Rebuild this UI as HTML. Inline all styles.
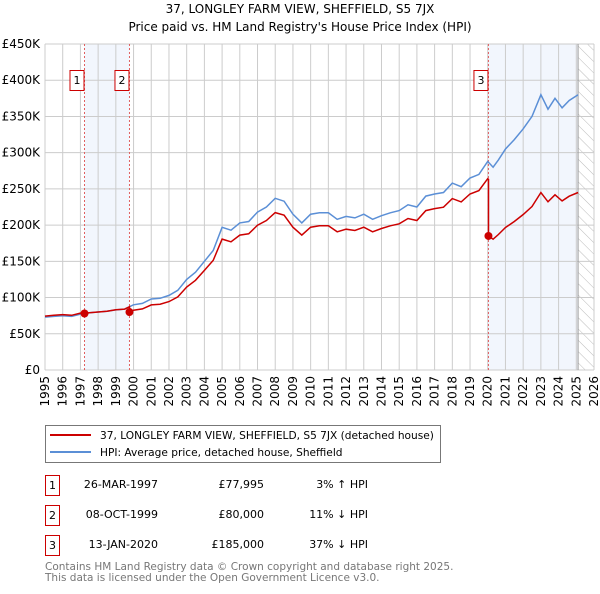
<!DOCTYPE html>
<html><head><meta charset="utf-8">
<style>
body{margin:0;background:#fff;width:600px;height:590px;overflow:hidden;font-family:"DejaVu Sans","Liberation Sans",sans-serif;}
svg text{font-family:"DejaVu Sans","Liberation Sans",sans-serif;}
</style></head>
<body>
<svg id="chart" width="600" height="590" viewBox="0 0 600 590" xmlns="http://www.w3.org/2000/svg">
<defs>
<pattern id="hatch" width="8" height="8" patternUnits="userSpaceOnUse" patternTransform="rotate(-45)">
<line x1="0" y1="0" x2="0" y2="8" stroke="#bbb" stroke-width="1"/>
</pattern>
</defs>
<text x="300" y="13" text-anchor="middle" font-size="12">37, LONGLEY FARM VIEW, SHEFFIELD, S5 7JX</text>
<text x="300" y="31" text-anchor="middle" font-size="12">Price paid vs. HM Land Registry's House Price Index (HPI)</text>
<g id="plot"></g>
<g>
<rect x="45.5" y="425.5" width="395" height="37" fill="#fff" stroke="#777"/>
<line x1="50" y1="435" x2="91" y2="435" stroke="#cc0000" stroke-width="2"/>
<text x="100" y="439" font-size="10.6">37, LONGLEY FARM VIEW, SHEFFIELD, S5 7JX (detached house)</text>
<line x1="50" y1="452" x2="91" y2="452" stroke="#5b8fd6" stroke-width="2"/>
<text x="100" y="456" font-size="10.6">HPI: Average price, detached house, Sheffield</text>
</g>
<g font-size="11">
<rect x="45.5" y="475.5" width="14" height="20" fill="#fff" stroke="#cc0000"/><text x="52.5" y="489" text-anchor="middle">1</text>
<text x="158" y="488" text-anchor="end">26-MAR-1997</text><text x="264" y="488" text-anchor="end">£77,995</text><text x="368" y="488" text-anchor="end">3% ↑ HPI</text>
<rect x="45.5" y="505.5" width="14" height="20" fill="#fff" stroke="#cc0000"/><text x="52.5" y="519" text-anchor="middle">2</text>
<text x="158" y="518" text-anchor="end">08-OCT-1999</text><text x="264" y="518" text-anchor="end">£80,000</text><text x="368" y="518" text-anchor="end">11% ↓ HPI</text>
<rect x="45.5" y="535.5" width="14" height="20" fill="#fff" stroke="#cc0000"/><text x="52.5" y="549" text-anchor="middle">3</text>
<text x="158" y="548" text-anchor="end">13-JAN-2020</text><text x="264" y="548" text-anchor="end">£185,000</text><text x="368" y="548" text-anchor="end">37% ↓ HPI</text>
</g>
<text x="45" y="570" font-size="10.5" fill="#777">Contains HM Land Registry data © Crown copyright and database right 2025.</text>
<text x="45" y="581" font-size="10.5" fill="#777">This data is licensed under the Open Government Licence v3.0.</text>
</svg>
<script>
const hpiYears=[1995,1995.5,1996,1996.5,1997,1997.5,1998,1998.5,1999,1999.5,2000,2000.5,2001,2001.5,2002,2002.5,2003,2003.5,2004,2004.5,2005,2005.5,2006,2006.5,2007,2007.5,2008,2008.5,2009,2009.5,2010,2010.5,2011,2011.5,2012,2012.5,2013,2013.5,2014,2014.5,2015,2015.5,2016,2016.5,2017,2017.5,2018,2018.5,2019,2019.5,2020,2020.3,2020.6,2021,2021.5,2022,2022.5,2023,2023.4,2023.8,2024.2,2024.6,2025.1];
const hpiValues=[73,74,75,74,77,79,80,81,83,84,90,92,98,99,103,110,125,135,150,165,197,193,203,205,218,225,237,233,215,203,215,217,217,208,212,210,215,208,213,217,220,228,225,240,243,245,258,253,265,270,288,280,290,305,318,333,350,380,360,375,362,372,380];
const saleYears=[1997.23,1999.77,2020.04];
const salePrices=[77995,80000,185000];
const saleLabels=["1","2","3"];
const yTicks=[0,50,100,150,200,250,300,350,400,450];
const yTickLabels=["£0","£50K","£100K","£150K","£200K","£250K","£300K","£350K","£400K","£450K"];
const xTicks=[];for(let y=1995;y<=2026;y++)xTicks.push(y);

const X0=45,X1=594,Y0=370,Y1=44,yearMin=1995,yearMax=2026,vMax=450;
const sx=y=>X0+(y-yearMin)/(yearMax-yearMin)*(X1-X0);
const sy=v=>Y0-v/vMax*(Y0-Y1);
const NS="http://www.w3.org/2000/svg";
const plot=document.getElementById('plot');
function mk(tag,attrs,parent){const e=document.createElementNS(NS,tag);for(const k in attrs)e.setAttribute(k,attrs[k]);(parent||plot).appendChild(e);return e;}
function hpiAt(t){if(t<=hpiYears[0])return hpiValues[0];for(let i=1;i<hpiYears.length;i++){if(t<=hpiYears[i]){const f=(t-hpiYears[i-1])/(hpiYears[i]-hpiYears[i-1]);return hpiValues[i-1]+f*(hpiValues[i]-hpiValues[i-1]);}}return hpiValues[hpiValues.length-1];}

const s1=mk('rect',{x:sx(saleYears[0]),y:Y1,width:sx(saleYears[1])-sx(saleYears[0]),height:Y0-Y1,fill:'#f2f6fd'});


const lastYear=hpiYears[hpiYears.length-1];
const s2=mk('rect',{x:sx(saleYears[2]),y:Y1,width:sx(lastYear)-sx(saleYears[2]),height:Y0-Y1,fill:'#f2f6fd'});


const hz=mk('rect',{x:sx(lastYear),y:Y1,width:X1-sx(lastYear),height:Y0-Y1,fill:'url(#hatch)'});



yTicks.forEach((v,i)=>{
 const l=mk('line',{x1:X0,x2:X1,y1:sy(v),y2:sy(v),stroke:'#ccc','stroke-width':1});
 
 
 const t=mk('text',{x:X0-5,y:sy(v)+4,'text-anchor':'end','font-size':12});
 t.textContent=yTickLabels[i];
 
 
});
xTicks.forEach(y=>{
 const l=mk('line',{x1:sx(y),x2:sx(y),y1:Y1,y2:Y0,stroke:'#ccc','stroke-width':1});
 
 
 const t=mk('text',{x:sx(y)+4,y:Y0+6,'text-anchor':'end','font-size':12,transform:`rotate(-90 ${sx(y)+4} ${Y0+6})`});
 t.textContent=y;
 
 
});
mk('line',{x1:sx(lastYear),x2:sx(lastYear),y1:Y1,y2:Y0,stroke:'#999','stroke-width':1});

saleYears.forEach((y,i)=>{
 const l=mk('line',{x1:sx(y),x2:sx(y),y1:Y1,y2:Y0,stroke:'#e06060','stroke-width':1,'stroke-dasharray':'2,2'});
 
 
 const g=mk('g',{});
 
 
 mk('rect',{x:sx(y)-14.5,y:70.5,width:14,height:20,fill:'#fff',stroke:'#cc0000'},g);
 const t=mk('text',{x:sx(y)-7.5,y:84,'text-anchor':'middle','font-size':11},g);
 t.textContent=saleLabels[i];
});

const hp=hpiYears.map((y,i)=>sx(y).toFixed(1)+','+sy(hpiValues[i]).toFixed(1)).join(' ');
const hl=mk('polyline',{points:hp,fill:'none',stroke:'#5b8fd6','stroke-width':1.5});



const pts=[];
function ratio(k){return salePrices[k]/1000/hpiAt(saleYears[k]);}
const preRatio=1.02;
hpiYears.forEach((y,i)=>{
 let k=-1;for(let j=0;j<saleYears.length;j++)if(y>=saleYears[j])k=j;
 for(let j=0;j<saleYears.length;j++){if(saleYears[j]<=y&&!pts['s'+j]){pts['s'+j]=1;
   const r=j>0?ratio(j-1):preRatio;
   pts.push([saleYears[j],hpiAt(saleYears[j])*r]);
   pts.push([saleYears[j],salePrices[j]/1000]);}}
 pts.push([y,hpiValues[i]*(k<0?preRatio:ratio(k))]);
});
const rl=mk('polyline',{points:pts.map(p=>sx(p[0]).toFixed(1)+','+sy(p[1]).toFixed(1)).join(' '),fill:'none',stroke:'#cc0000','stroke-width':1.5});


saleYears.forEach((y,i)=>{
 const c=mk('circle',{cx:sx(y),cy:sy(salePrices[i]/1000),r:4,fill:'#cc0000'});
 
 
});
</script>
</body></html>
